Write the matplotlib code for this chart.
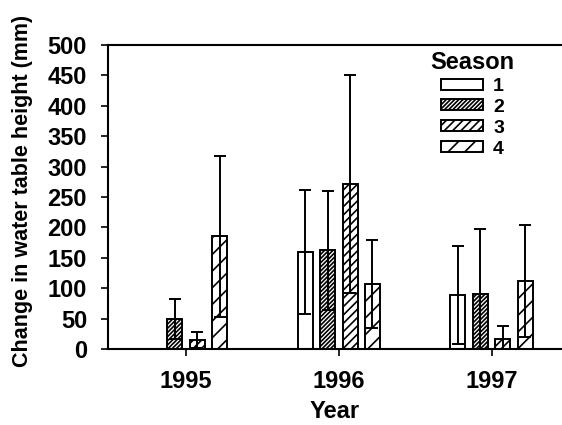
import numpy as np
import matplotlib.pyplot as plt

# datos
years = ['1995', '1996', '1997']
seasons = ['1', '2', '3', '4']
means = [
    [np.nan, 160, 89],   # season 1
    [49, 162, 90],       # season 2
    [15, 271, 16],       # season 3
    [185, 107, 112],     # season 4
]
errs = [
    [np.nan, 102, 81],
    [33, 98, 108],
    [13, 179, 22],
    [132, 72, 92],
]
hatches = ['', '////////', '////', '//']

plt.rcParams['font.family'] = ['Liberation Sans', 'DejaVu Sans']
plt.rcParams['font.weight'] = 'bold'
plt.rcParams['axes.labelweight'] = 'bold'
plt.rcParams['hatch.linewidth'] = 1.2

fig = plt.figure(figsize=(5.62, 4.25), dpi=100)
ax = fig.add_axes([0.192, 0.179, 0.808, 0.715])

x = np.arange(len(years))
width = 0.098
step = 0.147
for i in range(len(seasons)):
    pos = x + (i - 1.5) * step
    vals = np.array(means[i], dtype=float)
    ax.bar(pos, np.nan_to_num(vals), width, color='white', edgecolor='black',
           hatch=hatches[i], linewidth=1.4, label=seasons[i])
    ax.errorbar(pos, vals, yerr=errs[i], fmt='none', ecolor='black',
                elinewidth=1.4, capsize=4, capthick=1.4)

ax.set_xlim(-0.51, 2.46)
ax.set_ylim(0, 500)
ax.set_yticks(np.arange(0, 501, 50))
ax.set_xticks(x)
ax.set_xticklabels(years)
ax.tick_params(axis='both', labelsize=17, length=5, width=1.2, direction='out')
ax.tick_params(axis='x', pad=10)
ax.tick_params(axis='y', pad=10)
ax.spines['right'].set_visible(False)
for s in ['left', 'bottom', 'top']:
    ax.spines[s].set_linewidth(1.5)

ax.set_xlabel('Year', fontsize=17, labelpad=5)
ax.set_ylabel('Change in water table height (mm)', fontsize=15.5)
ax.yaxis.set_label_coords(-0.165, 0.52)

leg = ax.legend(title='Season', loc='upper left', bbox_to_anchor=(0.68, 1.025),
                frameon=False, fontsize=14, title_fontsize=17,
                handlelength=2.2, handleheight=0.5, labelspacing=0.2,
                handletextpad=0.5, borderpad=0.2)
leg.get_title().set_fontweight('bold')

fig.savefig('out.png', dpi=100)
